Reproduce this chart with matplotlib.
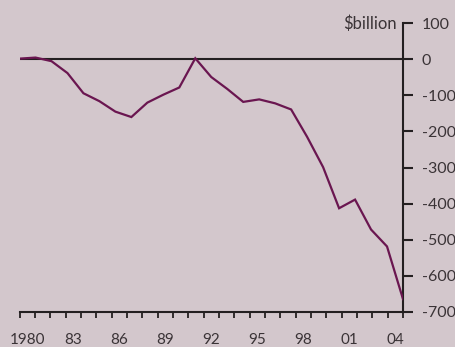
import numpy as np
import matplotlib
matplotlib.use('Agg')
import matplotlib.pyplot as plt
import matplotlib.ticker as mticker

# US current-account balance, $billion
years = [1980, 1981, 1982, 1983, 1984, 1985, 1986, 1987, 1988, 1989, 1990, 1991,
         1992, 1993, 1994, 1995, 1996, 1997, 1998, 1999, 2000, 2001, 2002, 2003, 2004]
balance = [2, 5, -5, -38, -94, -116, -145, -160, -120, -98, -78, 3,
           -49, -82, -118, -111, -122, -139, -215, -299, -413, -389, -472, -519, -665]
tick_labels = ['1980', '83', '86', '89', '92', '95', '98', '01', '04']
y_ticks = [100, 0, -100, -200, -300, -400, -500, -600, -700]

BG = '#d3c7cc'
LINE = '#6a1650'
INK = '#231f20'

plt.rcParams['font.family'] = ['Lato', 'DejaVu Sans']

fig = plt.figure(figsize=(4.55, 3.47), dpi=100, facecolor=BG)
ax = fig.add_axes([0.0429, 0.1017, 0.8428, 0.8311], facecolor=BG)

ax.axhline(0, color=INK, lw=1.5, zorder=2)
ax.plot(years, balance, color=LINE, lw=1.6, zorder=3, solid_joinstyle='miter')

ax.set_xlim(years[0], years[-1])
ax.set_ylim(-700, 100)

# ticks mark year boundaries, labels sit inside the year slots
n_slots = 25
step = (years[-1] - years[0]) / n_slots
ax.xaxis.set_minor_locator(mticker.FixedLocator([years[0] + i * step for i in range(n_slots + 1)]))
ax.set_xticks([years[0] + (3 * k + 0.5) * step for k in range(len(tick_labels))])
ax.set_xticklabels(tick_labels)
ax.tick_params(axis='x', which='major', length=0, pad=15, labelsize=11, colors='#3a3336')
ax.tick_params(axis='x', which='minor', length=4.5, width=1.3, color=INK, direction='out')

ax.yaxis.tick_right()
ax.set_yticks(y_ticks)
ax.set_yticklabels([str(v) for v in y_ticks])
ax.tick_params(axis='y', length=7.5, width=1.5, color=INK, pad=6, labelsize=11.5,
               labelcolor='#3a3336')

for side in ('left', 'top'):
    ax.spines[side].set_visible(False)
for side in ('right', 'bottom'):
    ax.spines[side].set_color(INK)
    ax.spines[side].set_linewidth(1.5)

ax.text(0.985, 1.0, '$billion', transform=ax.transAxes, ha='right', va='center',
        fontsize=12, color='#3a3336')

fig.savefig('out.png', dpi=100, facecolor=BG)
